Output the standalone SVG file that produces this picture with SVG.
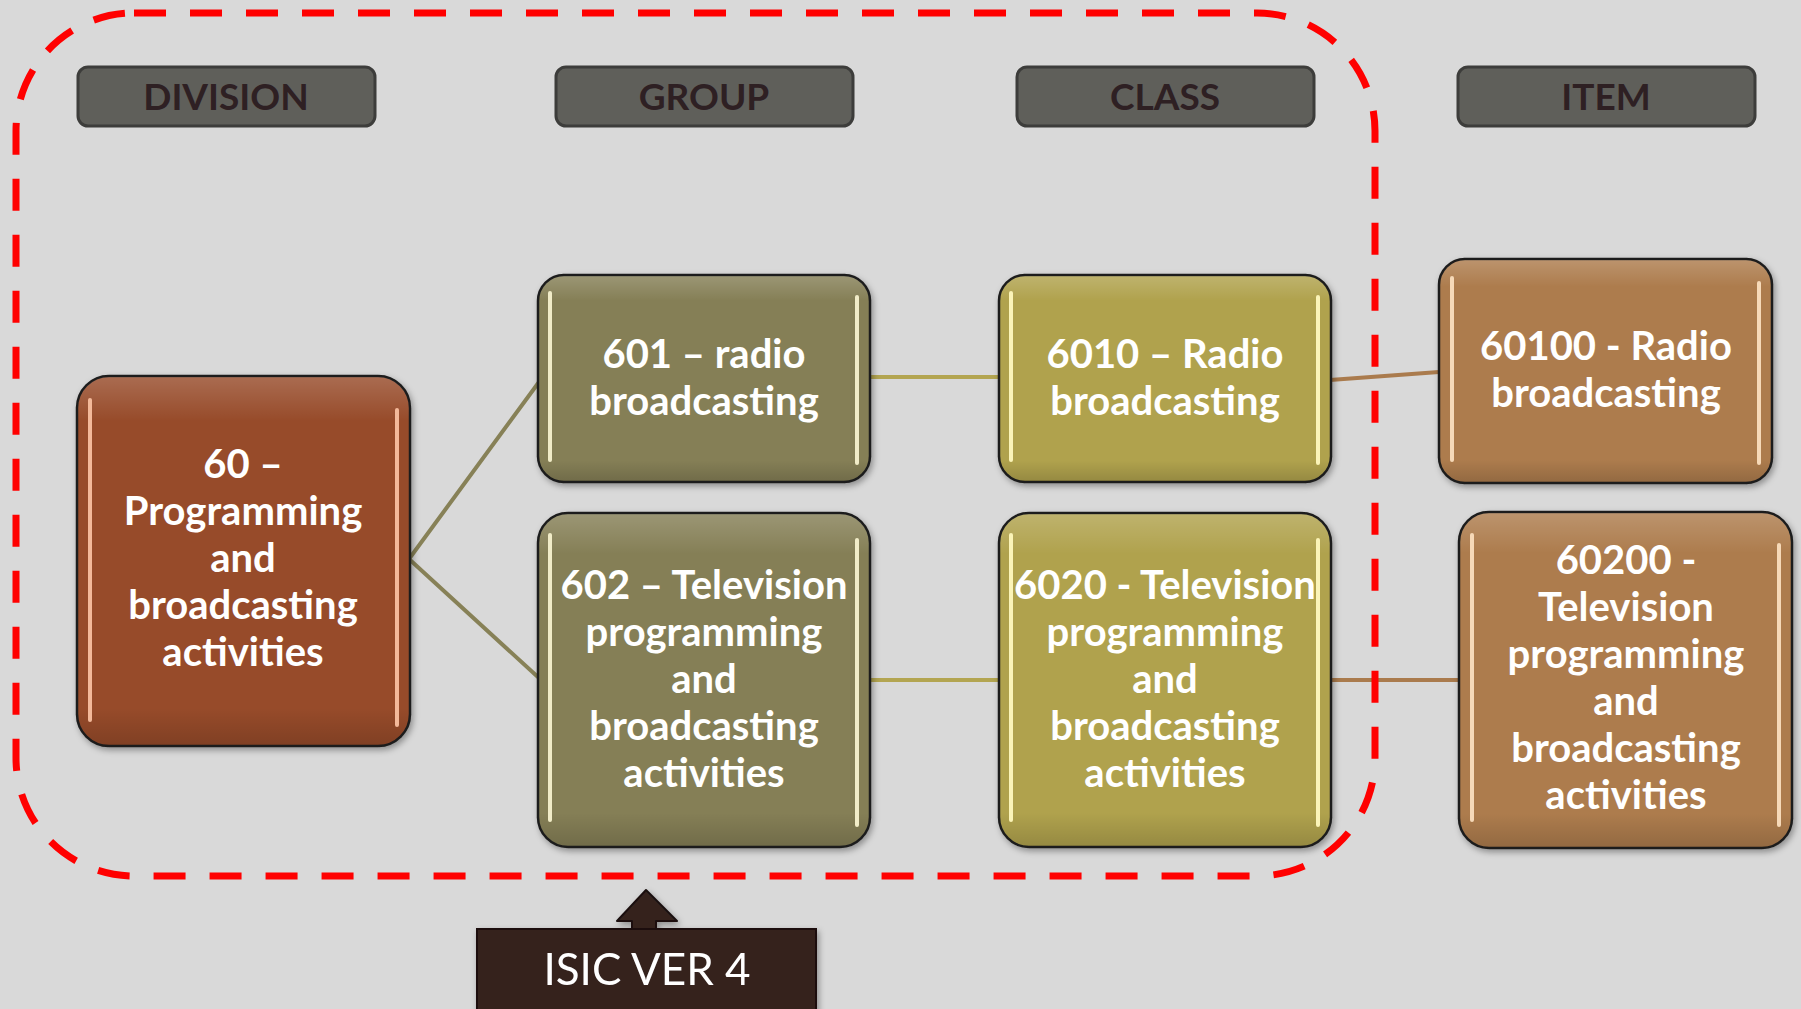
<svg xmlns="http://www.w3.org/2000/svg" width="1801" height="1009" viewBox="0 0 1801 1009">
  <defs>
    <style>
      .hdr rect { fill: #5f5f5a; stroke: #3d3d3b; stroke-width: 3; }
      .hdr text { font-family: Lato, "Open Sans", sans-serif; font-weight: bold; font-size: 37px; fill: #2e2023; text-anchor: middle; }
      .node rect.box { stroke: #1c1c1c; stroke-width: 2.5; }
      .node text { font-family: Lato, "Open Sans", sans-serif; font-weight: bold; font-size: 40px; fill: #ffffff; text-anchor: middle; }
      .hl { stroke-width: 4; stroke-linecap: round; fill: none; }
      .div rect.box { fill: #974c2c; }
      .div .hl { stroke: #f3b99a; }
      .grp rect.box { fill: #857f56; }
      .grp .hl { stroke: #f1ecc8; }
      .cls rect.box { fill: #b0a24e; }
      .cls .hl { stroke: #fbf4b8; }
      .itm rect.box { fill: #ad7b4d; }
      .itm .hl { stroke: #f6d9b8; }
      .conn line, .conn polyline { fill: none; stroke-width: 4; }
    </style>
    <filter id="sh" x="-10%" y="-10%" width="120%" height="120%">
      <feDropShadow dx="2" dy="3" stdDeviation="3" flood-color="#000" flood-opacity="0.35"/>
    </filter>
    <linearGradient id="gloss" x1="0" y1="0" x2="0" y2="1">
      <stop offset="0" stop-color="#fff" stop-opacity="0.18"/>
      <stop offset="0.12" stop-color="#fff" stop-opacity="0"/>
      <stop offset="0.9" stop-color="#000" stop-opacity="0"/>
      <stop offset="1" stop-color="#000" stop-opacity="0.15"/>
    </linearGradient>
  </defs>

  <rect x="0" y="0" width="1801" height="1009" fill="#d9d9d9"/>

  <g id="connectors" class="conn">
    <polyline points="539,382 409,559 539,678" stroke="#878157"/>
    <line x1="869" y1="377" x2="999" y2="377" stroke="#b3a551"/>
    <line x1="869" y1="680" x2="999" y2="680" stroke="#b3a551"/>
    <line x1="1330" y1="380" x2="1439" y2="372" stroke="#aa7b4d"/>
    <line x1="1330" y1="680" x2="1459" y2="680" stroke="#aa7b4d"/>
  </g>

  <g id="boundary">
    <rect x="16" y="13" width="1359" height="863" rx="118" ry="118" fill="none" stroke="#ff0000" stroke-width="7" stroke-dasharray="32 24"/>
  </g>

  <g id="hdr-division" class="hdr">
    <rect x="78" y="67" width="297" height="59" rx="10"/>
    <text x="226" y="110">DIVISION</text>
  </g>
  <g id="hdr-group" class="hdr">
    <rect x="556" y="67" width="297" height="59" rx="10"/>
    <text x="704" y="110">GROUP</text>
  </g>
  <g id="hdr-class" class="hdr">
    <rect x="1017" y="67" width="297" height="59" rx="10"/>
    <text x="1165" y="110">CLASS</text>
  </g>
  <g id="hdr-item" class="hdr">
    <rect x="1458" y="67" width="297" height="59" rx="10"/>
    <text x="1606" y="110">ITEM</text>
  </g>

  <g id="node-60" class="node div">
    <rect class="box" x="77" y="376" width="333" height="370" rx="32" filter="url(#sh)"/>
    <rect x="78" y="377" width="331" height="368" rx="31" fill="url(#gloss)"/>
    <line class="hl" x1="90" y1="400" x2="90" y2="720"/>
    <line class="hl" x1="397" y1="410" x2="397" y2="725"/>
    <text x="243" y="478">60 –</text>
    <text x="243" y="525">Programming</text>
    <text x="243" y="572">and</text>
    <text x="243" y="619">broadcasting</text>
    <text x="243" y="666">activities</text>
  </g>

  <g id="node-601" class="node grp">
    <rect class="box" x="538" y="275" width="332" height="207" rx="26" filter="url(#sh)"/>
    <rect x="539" y="276" width="330" height="205" rx="25" fill="url(#gloss)"/>
    <line class="hl" x1="550" y1="293" x2="550" y2="460"/>
    <line class="hl" x1="857" y1="297" x2="857" y2="463"/>
    <text x="704" y="368">601 – radio</text>
    <text x="704" y="415">broadcasting</text>
  </g>

  <g id="node-602" class="node grp">
    <rect class="box" x="538" y="513" width="332" height="334" rx="30" filter="url(#sh)"/>
    <rect x="539" y="514" width="330" height="332" rx="29" fill="url(#gloss)"/>
    <line class="hl" x1="550" y1="535" x2="550" y2="820"/>
    <line class="hl" x1="857" y1="540" x2="857" y2="825"/>
    <text x="704" y="599">602 – Television</text>
    <text x="704" y="646">programming</text>
    <text x="704" y="693">and</text>
    <text x="704" y="740">broadcasting</text>
    <text x="704" y="787">activities</text>
  </g>

  <g id="node-6010" class="node cls">
    <rect class="box" x="999" y="275" width="332" height="207" rx="26" filter="url(#sh)"/>
    <rect x="1000" y="276" width="330" height="205" rx="25" fill="url(#gloss)"/>
    <line class="hl" x1="1011" y1="293" x2="1011" y2="460"/>
    <line class="hl" x1="1318" y1="297" x2="1318" y2="463"/>
    <text x="1165" y="368">6010 – Radio</text>
    <text x="1165" y="415">broadcasting</text>
  </g>

  <g id="node-6020" class="node cls">
    <rect class="box" x="999" y="513" width="332" height="334" rx="30" filter="url(#sh)"/>
    <rect x="1000" y="514" width="330" height="332" rx="29" fill="url(#gloss)"/>
    <line class="hl" x1="1011" y1="535" x2="1011" y2="820"/>
    <line class="hl" x1="1318" y1="540" x2="1318" y2="825"/>
    <text x="1165" y="599">6020 - Television</text>
    <text x="1165" y="646">programming</text>
    <text x="1165" y="693">and</text>
    <text x="1165" y="740">broadcasting</text>
    <text x="1165" y="787">activities</text>
  </g>

  <g id="node-60100" class="node itm">
    <rect class="box" x="1439" y="259" width="333" height="224" rx="26" filter="url(#sh)"/>
    <rect x="1440" y="260" width="331" height="222" rx="25" fill="url(#gloss)"/>
    <line class="hl" x1="1452" y1="278" x2="1452" y2="460"/>
    <line class="hl" x1="1759" y1="283" x2="1759" y2="463"/>
    <text x="1606" y="360">60100 - Radio</text>
    <text x="1606" y="407">broadcasting</text>
  </g>

  <g id="node-60200" class="node itm">
    <rect class="box" x="1459" y="512" width="333" height="336" rx="30" filter="url(#sh)"/>
    <rect x="1460" y="513" width="331" height="334" rx="29" fill="url(#gloss)"/>
    <line class="hl" x1="1472" y1="535" x2="1472" y2="820"/>
    <line class="hl" x1="1779" y1="545" x2="1779" y2="825"/>
    <text x="1626" y="574">60200 -</text>
    <text x="1626" y="621">Television</text>
    <text x="1626" y="668">programming</text>
    <text x="1626" y="715">and</text>
    <text x="1626" y="762">broadcasting</text>
    <text x="1626" y="809">activities</text>
  </g>

  <g id="isic" filter="url(#sh)">
    <polygon points="646,890 677,921 656,921 656,930 632,930 632,921 617,921" fill="#34231f" stroke="#1a1110" stroke-width="2" stroke-linejoin="round"/>
    <rect x="477" y="929" width="339" height="84" fill="#34231f" stroke="#1a1110" stroke-width="2"/>
    <text x="647" y="985" font-family="Lato, 'Open Sans', sans-serif" font-size="44" fill="#ffffff" text-anchor="middle">ISIC VER 4</text>
  </g>
</svg>
